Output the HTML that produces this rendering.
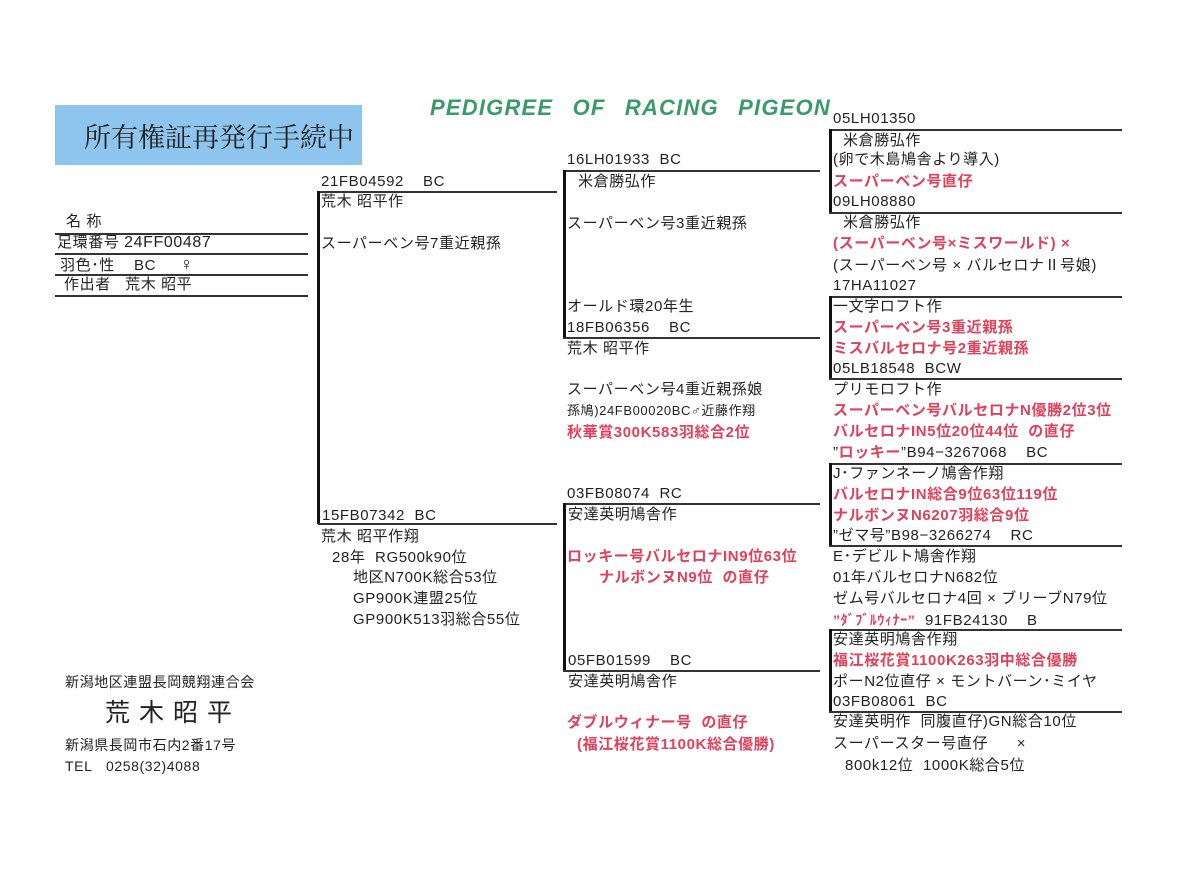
<!DOCTYPE html>
<html><head><meta charset="utf-8"><style>
body{margin:0;background:#fff;}
#p{position:relative;width:1200px;height:871px;overflow:hidden;background:#fff;font-family:"Liberation Sans","Noto Sans CJK JP",sans-serif;color:#222;}
.t{position:absolute;font-size:15px;line-height:18px;white-space:nowrap;letter-spacing:0.6px;}
.r{color:#e0405a;font-weight:bold;}
.h{position:absolute;height:1.5px;background:#333;}
.v{position:absolute;width:3px;background:#111;}
</style></head><body><div id="p">
<div style="position:absolute;left:55px;top:105px;width:307px;height:60px;background:#8ec5ee;"></div>
<div class="t" style="left:84px;top:119px;font-size:27px;line-height:34px;font-family:'Noto Serif CJK SC',serif;color:#222;letter-spacing:0;">所有権証再発行手続中</div>
<div class="t" style="left:430px;top:95px;font-size:22px;line-height:26px;font-weight:bold;font-style:italic;color:#3a9a6a;word-spacing:12px;letter-spacing:1.2px;">PEDIGREE OF RACING PIGEON</div>

<div class="t" style="left:66px;top:213px;">名&nbsp;称</div>
<div class="h" style="left:55px;top:233px;width:253px;"></div>
<div class="t" style="left:57px;top:234px;">足環番号 <span style="font-size:16px">24FF00487</span></div>
<div class="h" style="left:55px;top:253px;width:253px;"></div>
<div class="t" style="left:60px;top:255px;">羽色･性&nbsp;&nbsp;&nbsp;&nbsp;BC&nbsp;&nbsp;&nbsp;&nbsp;&nbsp;<span style="font-size:18px">♀</span></div>
<div class="h" style="left:55px;top:274px;width:253px;"></div>
<div class="t" style="left:64px;top:276px;">作出者&nbsp;&nbsp;&nbsp;荒木 昭平</div>
<div class="h" style="left:55px;top:295px;width:253px;"></div>

<!-- col1 -->
<div class="t" style="left:321px;top:173px;">21FB04592&nbsp;&nbsp;&nbsp;&nbsp;BC</div>
<div class="h" style="left:318px;top:191px;width:239px;"></div>
<div class="v" style="left:317px;top:191px;height:333px;"></div>
<div class="t" style="left:321px;top:193px;">荒木 昭平作</div>
<div class="t" style="left:321px;top:235px;">スーパーベン号7重近親孫</div>
<div class="t" style="left:322px;top:507px;">15FB07342&nbsp;&nbsp;BC</div>
<div class="h" style="left:318px;top:523px;width:239px;"></div>
<div class="t" style="left:321px;top:528px;">荒木 昭平作翔</div>
<div class="t" style="left:332px;top:549px;">28年&nbsp;&nbsp;RG500k90位</div>
<div class="t" style="left:353px;top:569px;">地区N700K総合53位</div>
<div class="t" style="left:353px;top:590px;">GP900K連盟25位</div>
<div class="t" style="left:353px;top:611px;">GP900K513羽総合55位</div>

<!-- col2 -->
<div class="t" style="left:567px;top:151px;">16LH01933&nbsp;&nbsp;BC</div>
<div class="h" style="left:563px;top:170px;width:257px;"></div>
<div class="v" style="left:563px;top:170px;height:168px;"></div>
<div class="t" style="left:578px;top:173px;">米倉勝弘作</div>
<div class="t" style="left:567px;top:215px;">スーパーベン号3重近親孫</div>
<div class="t" style="left:567px;top:298px;">オールド環20年生</div>
<div class="t" style="left:567px;top:319px;">18FB06356&nbsp;&nbsp;&nbsp;&nbsp;BC</div>
<div class="h" style="left:563px;top:337px;width:257px;"></div>
<div class="t" style="left:567px;top:340px;">荒木 昭平作</div>
<div class="t" style="left:567px;top:381px;">スーパーベン号4重近親孫娘</div>
<div class="t" style="left:567px;top:402px;font-size:13px;">孫鳩)24FB00020BC♂近藤作翔</div>
<div class="t r" style="left:567px;top:424px;">秋華賞300K583羽総合2位</div>
<div class="t" style="left:567px;top:485px;">03FB08074&nbsp;&nbsp;RC</div>
<div class="h" style="left:563px;top:503px;width:257px;"></div>
<div class="v" style="left:563px;top:503px;height:168px;"></div>
<div class="t" style="left:568px;top:506px;">安達英明鳩舎作</div>
<div class="t r" style="left:567px;top:548px;">ロッキー号バルセロナIN9位63位</div>
<div class="t r" style="left:599px;top:569px;">ナルボンヌN9位&nbsp;&nbsp;の直仔</div>
<div class="t" style="left:568px;top:652px;">05FB01599&nbsp;&nbsp;&nbsp;&nbsp;BC</div>
<div class="h" style="left:563px;top:670px;width:257px;"></div>
<div class="t" style="left:568px;top:673px;">安達英明鳩舎作</div>
<div class="t r" style="left:567px;top:714px;">ダブルウィナー号&nbsp;&nbsp;の直仔</div>
<div class="t r" style="left:577px;top:736px;">(福江桜花賞1100K総合優勝)</div>

<!-- col3 -->
<div class="t" style="left:833px;top:110px;">05LH01350</div>
<div class="h" style="left:829px;top:129px;width:293px;"></div>
<div class="v" style="left:829px;top:129px;height:84px;"></div>
<div class="t" style="left:843px;top:132px;">米倉勝弘作</div>
<div class="t" style="left:833px;top:151px;">(卵で木島鳩舎より導入)</div>
<div class="t r" style="left:833px;top:173px;">スーパーベン号直仔</div>
<div class="t" style="left:833px;top:193px;">09LH08880</div>
<div class="h" style="left:829px;top:212px;width:293px;"></div>
<div class="t" style="left:843px;top:214px;">米倉勝弘作</div>
<div class="t r" style="left:833px;top:235px;">(スーパーベン号×ミスワールド) ×</div>
<div class="t" style="left:833px;top:257px;">(スーパーベン号 × バルセロナⅡ号娘)</div>
<div class="t" style="left:833px;top:277px;">17HA11027</div>
<div class="h" style="left:829px;top:296px;width:293px;"></div>
<div class="v" style="left:829px;top:296px;height:83px;"></div>
<div class="t" style="left:833px;top:298px;">一文字ロフト作</div>
<div class="t r" style="left:833px;top:319px;">スーパーベン号3重近親孫</div>
<div class="t r" style="left:833px;top:340px;">ミスバルセロナ号2重近親孫</div>
<div class="t" style="left:833px;top:360px;">05LB18548&nbsp;&nbsp;BCW</div>
<div class="h" style="left:829px;top:378px;width:293px;"></div>
<div class="t" style="left:833px;top:381px;">プリモロフト作</div>
<div class="t r" style="left:833px;top:402px;">スーパーベン号バルセロナN優勝2位3位</div>
<div class="t r" style="left:833px;top:423px;">バルセロナIN5位20位44位&nbsp;&nbsp;の直仔</div>
<div class="t" style="left:833px;top:444px;">”<span class="r">ロッキー</span>”B94−3267068&nbsp;&nbsp;&nbsp;&nbsp;BC</div>
<div class="h" style="left:829px;top:463px;width:293px;"></div>
<div class="v" style="left:829px;top:463px;height:83px;"></div>
<div class="t" style="left:833px;top:465px;">J･ファンネーノ鳩舎作翔</div>
<div class="t r" style="left:833px;top:486px;">バルセロナIN総合9位63位119位</div>
<div class="t r" style="left:833px;top:507px;">ナルボンヌN6207羽総合9位</div>
<div class="t" style="left:833px;top:527px;">”ゼマ号”B98−3266274&nbsp;&nbsp;&nbsp;&nbsp;RC</div>
<div class="h" style="left:829px;top:545px;width:293px;"></div>
<div class="t" style="left:833px;top:548px;">E･デビルト鳩舎作翔</div>
<div class="t" style="left:833px;top:569px;">01年バルセロナN682位</div>
<div class="t" style="left:833px;top:590px;">ゼム号バルセロナ4回 × ブリーブN79位</div>
<div class="t" style="left:833px;top:611px;"><span class="r" style="font-size:14px">”ﾀﾞﾌﾞﾙｳｨﾅｰ”</span>&nbsp;&nbsp;91FB24130&nbsp;&nbsp;&nbsp;&nbsp;B</div>
<div class="h" style="left:829px;top:629px;width:293px;"></div>
<div class="v" style="left:829px;top:629px;height:83px;"></div>
<div class="t" style="left:833px;top:631px;">安達英明鳩舎作翔</div>
<div class="t r" style="left:833px;top:652px;">福江桜花賞1100K263羽中総合優勝</div>
<div class="t" style="left:833px;top:673px;">ポーN2位直仔 × モントバーン･ミイヤ</div>
<div class="t" style="left:833px;top:693px;">03FB08061&nbsp;&nbsp;BC</div>
<div class="h" style="left:829px;top:711px;width:293px;"></div>
<div class="t" style="left:833px;top:713px;">安達英明作&nbsp;&nbsp;同腹直仔)GN総合10位</div>
<div class="t" style="left:833px;top:735px;">スーパースター号直仔&nbsp;&nbsp;&nbsp;&nbsp;&nbsp;&nbsp;×</div>
<div class="t" style="left:845px;top:757px;">800k12位&nbsp;&nbsp;1000K総合5位</div>

<!-- footer -->
<div class="t" style="left:65px;top:673px;font-size:14px;">新潟地区連盟長岡競翔連合会</div>
<div class="t" style="left:105px;top:698px;font-size:25px;line-height:30px;letter-spacing:9px;">荒木昭平</div>
<div class="t" style="left:65px;top:736px;font-size:14px;">新潟県長岡市石内2番17号</div>
<div class="t" style="left:65px;top:757px;font-size:14px;">TEL&nbsp;&nbsp;&nbsp;0258(32)4088</div>
</div></body></html>
